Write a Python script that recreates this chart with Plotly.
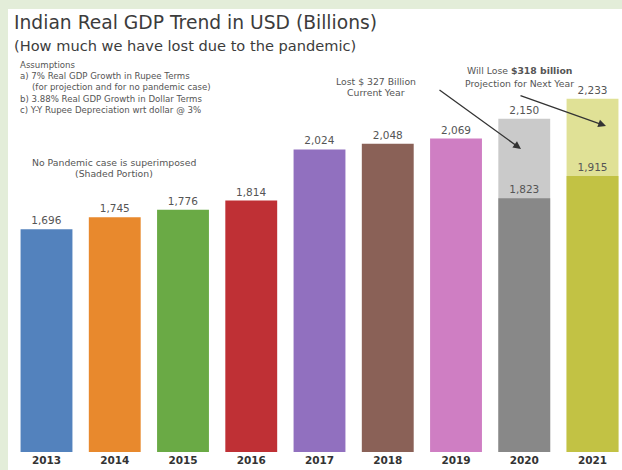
import plotly.graph_objects as go

# --- data -------------------------------------------------------------
years = ["2013", "2014", "2015", "2016", "2017", "2018", "2019", "2020", "2021"]
actual_gdp = [1696, 1745, 1776, 1814, 2024, 2048, 2069, 1823, 1915]
no_pandemic_years = ["2020", "2021"]
no_pandemic_gdp = [2150, 2233]

bar_colors = ["#5382bd", "#e8892d", "#6aaa45", "#bf3035", "#9170bf",
              "#8a6157", "#cf7ec3", "#888888", "#c2c244"]
shade_colors = ["#cacaca", "#e0e196"]

# --- page geometry (pixels) -------------------------------------------
W, H = 622, 470
PL, PR, PT, PB = 12, 622, 60, 452   # plot area edges

WIDE = "DejaVu Sans, sans-serif"


def px(x, y):
    """Pixel position on the page -> paper coordinates."""
    return (x - PL) / (PR - PL), (PB - y) / (PB - PT)


fig = go.Figure()

label_font = dict(size=10.5, color="#555555", family=WIDE)

# shaded "no pandemic" bars sit behind the actual bars
fig.add_trace(go.Bar(
    x=no_pandemic_years, y=no_pandemic_gdp,
    marker=dict(color=shade_colors, line=dict(width=0)),
    texttemplate="%{y:,}", textposition="outside",
    textfont=label_font, cliponaxis=False, showlegend=False,
))
fig.add_trace(go.Bar(
    x=years, y=actual_gdp,
    marker=dict(color=bar_colors, line=dict(width=0)),
    texttemplate="%{y:,}", textposition="outside",
    textfont=label_font, cliponaxis=False, showlegend=False,
))

annotations = []


def note(x, y, text, size=9, color="#555555", anchor="left", family=WIDE):
    ax_, ay_ = px(x, y)
    annotations.append(dict(
        x=ax_, y=ay_, xref="paper", yref="paper", text=text,
        showarrow=False, xanchor=anchor, yanchor="middle",
        font=dict(size=size, color=color, family=family), align=anchor,
    ))


note(12, 23, "Indian Real GDP Trend in USD (Billions)", size=18.7, color="#3c3c3c")
note(12, 46, "(How much we have lost due to the pandemic)", size=14.6, color="#3c3c3c")

note(18, 65, "Assumptions", size=8.6)
note(18, 76, "a) 7% Real GDP Growth in Rupee Terms", size=8.6)
note(30, 87, "(for projection and for no pandemic case)", size=8.6)
note(18, 99, "b) 3.88% Real GDP Growth in Dollar Terms", size=8.6)
note(18, 110, "c) Y-Y Rupee Depreciation wrt dollar @ 3%", size=8.6)

note(114, 162, "No Pandemic case is superimposed", size=9.3, anchor="center")
note(114, 173, "(Shaded Portion)", size=9.3, anchor="center")

note(376, 81, "Lost $ 327 Billion", size=9.3, anchor="center")
note(376, 93, "Current Year", size=9.3, anchor="center")
note(519, 71, "Will Lose <b>$318 billion</b>", size=9.3, anchor="center")
note(519, 83, "Projection for Next Year", size=9.3, anchor="center")


def arrow(x0, y0, x1, y1):
    hx, hy = px(x1, y1)
    annotations.append(dict(
        x=hx, y=hy, xref="paper", yref="paper",
        ax=x0 - x1, ay=y0 - y1, axref="pixel", ayref="pixel",
        text="", showarrow=True, arrowhead=2, arrowsize=1.2,
        arrowwidth=1.3, arrowcolor="#333333",
    ))


arrow(438, 89, 521, 149)
arrow(519, 95, 606, 126)

bx0, by1 = px(8, 9)
bx1, by0 = px(W, H)

fig.update_layout(
    width=W, height=H,
    margin=dict(l=PL, r=W - PR, t=PT, b=H - PB, pad=0),
    paper_bgcolor="#e3edd9",
    plot_bgcolor="rgba(0,0,0,0)",
    barmode="overlay",
    bargap=0.24,
    font=dict(family=WIDE, color="#444444"),
    xaxis=dict(
        type="category", categoryorder="array", categoryarray=years,
        range=[-0.5055, 8.432],
        showgrid=False, zeroline=False, showline=False, ticks="",
        tickfont=dict(size=10.5, color="#333333", family=WIDE, weight="bold"),
    ),
    yaxis=dict(range=[780, 2392], visible=False, showgrid=False),
    shapes=[dict(
        type="rect", xref="paper", yref="paper",
        x0=bx0, x1=bx1, y0=by0, y1=by1,
        fillcolor="white", line=dict(width=0), layer="below",
    )],
    annotations=annotations,
)

fig.write_html("out.html")
